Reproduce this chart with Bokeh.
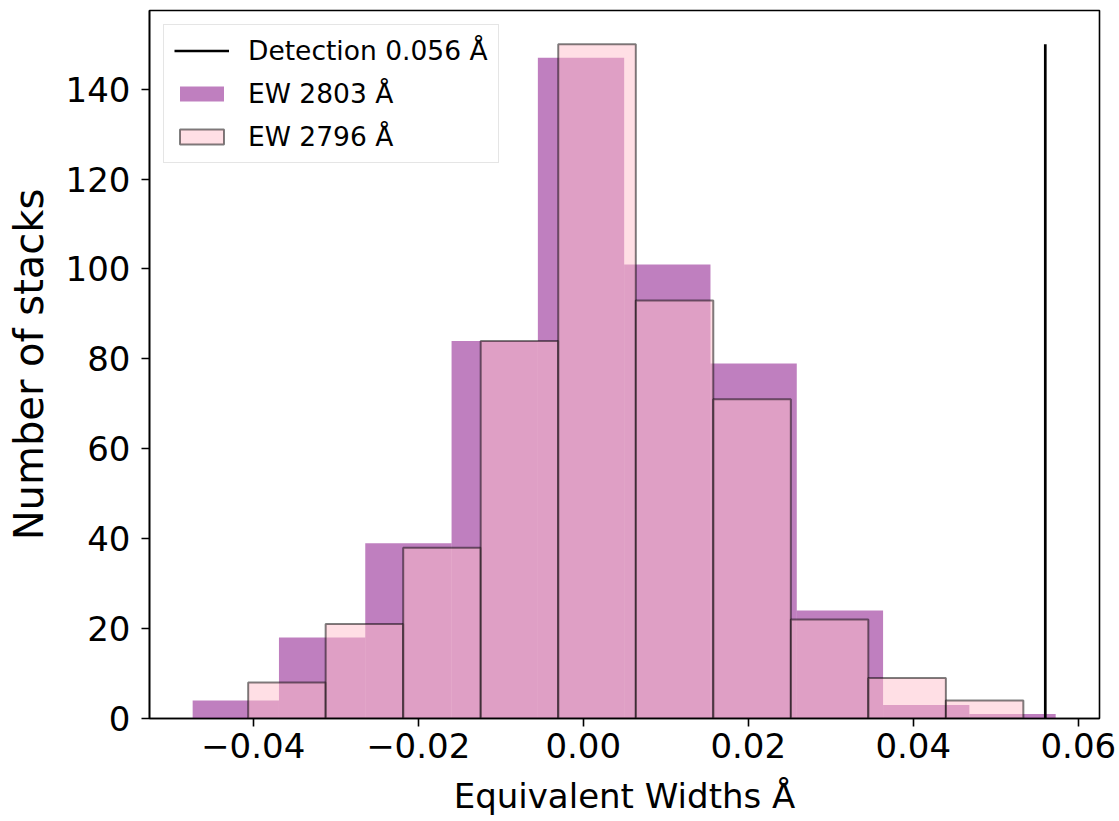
from bokeh.plotting import figure
from bokeh.models import Range1d, FixedTicker, Legend, LegendItem
from bokeh.embed import file_html
from bokeh.resources import INLINE

# ---- data ----
ew2803_edges = [-0.04734, -0.03688, -0.02642, -0.01596, -0.00550, 0.00496,
                0.01542, 0.02588, 0.03634, 0.04680, 0.05726]
ew2803_counts = [4, 18, 39, 84, 147, 101, 79, 24, 3, 1]

ew2796_edges = [-0.04061, -0.03122, -0.02182, -0.01243, -0.00303, 0.00637,
                0.01576, 0.02516, 0.03455, 0.04395, 0.05334]
ew2796_counts = [8, 21, 38, 84, 150, 93, 71, 22, 9, 4]

detection_ew = 0.056
detection_top = 150

xticks = [-0.04, -0.02, 0.0, 0.02, 0.04, 0.06]
xtick_labels = ["\u22120.04", "\u22120.02", "0.00", "0.02", "0.04", "0.06"]
yticks = [0, 20, 40, 60, 80, 100, 120, 140]

FONT = "DejaVu Sans"

p = figure(width=1119, height=821, output_backend="svg", toolbar_location=None,
           x_range=Range1d(-0.05257, 0.06257), y_range=Range1d(0, 157.5),
           min_border_left=149, min_border_right=20, min_border_top=10,
           min_border_bottom=103)

p.xgrid.visible = False
p.ygrid.visible = False
p.outline_line_color = "black"
p.outline_line_width = 1.6
p.background_fill_color = "white"
p.border_fill_color = "white"

r_purple = p.quad(left=ew2803_edges[:-1], right=ew2803_edges[1:], top=ew2803_counts,
                  bottom=0, fill_color="#800080", fill_alpha=0.5, line_color=None)
r_pink = p.quad(left=ew2796_edges[:-1], right=ew2796_edges[1:], top=ew2796_counts,
                bottom=0, fill_color="#FFC0CB", fill_alpha=0.5,
                line_color="black", line_alpha=0.5, line_width=2)
r_det = p.line([detection_ew, detection_ew], [0, detection_top],
               line_color="black", line_width=2.7)

for ax in (p.xaxis[0], p.yaxis[0]):
    ax.axis_line_width = 1.6
    ax.major_tick_line_width = 1.6
    ax.major_tick_in = 0
    ax.major_tick_out = 8
    ax.minor_tick_line_color = None
    ax.major_label_text_font = FONT
    ax.major_label_text_font_size = "34px"
    ax.major_label_text_color = "black"
    ax.axis_label_text_font = FONT
    ax.axis_label_text_font_style = "normal"
    ax.axis_label_text_color = "black"

p.xaxis.ticker = FixedTicker(ticks=xticks)
p.xaxis.major_label_overrides = {t: l for t, l in zip(xticks, xtick_labels)}
p.xaxis.major_label_standoff = 6
p.xaxis.axis_label = "Equivalent Widths \u00c5"
p.xaxis.axis_label_text_font_size = "34px"
p.xaxis.axis_label_standoff = 15

p.yaxis.ticker = FixedTicker(ticks=yticks)
p.yaxis.major_label_standoff = 11
p.yaxis.axis_label = "Number of stacks"
p.yaxis.axis_label_text_font_size = "40px"
p.yaxis.axis_label_standoff = 11

legend = Legend(items=[
    LegendItem(label=f"Detection {detection_ew} \u00c5", renderers=[r_det]),
    LegendItem(label="EW 2803 \u00c5", renderers=[r_purple]),
    LegendItem(label="EW 2796 \u00c5", renderers=[r_pink]),
], location="top_left")
legend.margin = 14
legend.padding = 10
legend.spacing = 12
legend.glyph_width = 55
legend.glyph_height = 19
legend.label_height = 19
legend.label_standoff = 19
legend.label_text_font = FONT
legend.label_text_font_size = "26.5px"
legend.label_text_color = "black"
legend.border_line_color = "#cccccc"
legend.border_line_width = 1.5
legend.background_fill_color = "white"
legend.background_fill_alpha = 0.8
p.add_layout(legend)

open("out.html", "w").write(file_html(p, INLINE))
